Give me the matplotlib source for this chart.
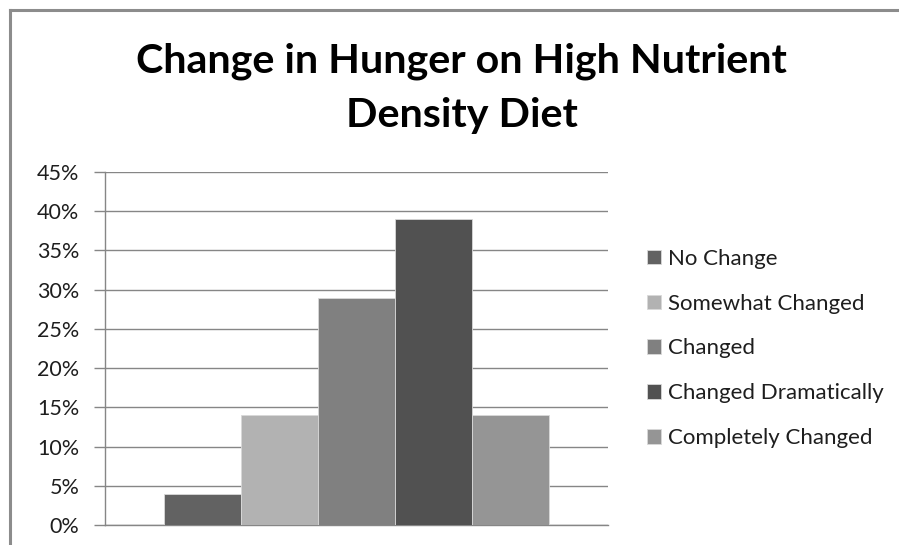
import matplotlib
matplotlib.use('Agg')
import matplotlib.pyplot as plt
from matplotlib.lines import Line2D
from matplotlib.ticker import PercentFormatter

# Survey responses (share of participants)
categories = ['No Change', 'Somewhat Changed', 'Changed', 'Changed Dramatically', 'Completely Changed']
values = [0.04, 0.14, 0.29, 0.39, 0.14]
colors = ['#626262', '#b2b2b2', '#808080', '#515151', '#959595']
yticks = [0, 0.05, 0.10, 0.15, 0.20, 0.25, 0.30, 0.35, 0.40, 0.45]
title_lines = ['Change in Hunger on High Nutrient', 'Density Diet']

plt.rcParams['font.family'] = ['Lato', 'DejaVu Sans']

W, H = 899, 545
fig = plt.figure(figsize=(W / 100, H / 100), dpi=100)
ax = fig.add_axes([105 / W, 1 - 525 / H, 503 / W, 353 / H])

# one category group, bars side by side
bar_w = 77 / 503
start = 0.5 - 2.5 * bar_w
for i, (cat, val, col) in enumerate(zip(categories, values, colors)):
    ax.bar(start + (i + 0.5) * bar_w, val, width=bar_w, color=col,
           edgecolor='#d9d9d9', linewidth=0.6, label=cat, zorder=3)

ax.set_xlim(0, 1)
ax.set_ylim(0, 0.45)
ax.set_yticks(yticks)
ax.yaxis.set_major_formatter(PercentFormatter(1.0, decimals=0))
ax.set_xticks([])
ax.grid(axis='y', color='#868686', linewidth=1.0, zorder=0)
ax.tick_params(axis='y', length=8, width=1.0, color='#868686', labelsize=15.5,
               labelcolor='#1e1e1e', pad=10.5)
for side in ['top', 'right']:
    ax.spines[side].set_visible(False)
for side in ['left', 'bottom']:
    ax.spines[side].set_color('#868686')
    ax.spines[side].set_linewidth(1.0)

# title, two lines centred over the chart
for line, base in zip(title_lines, [73, 127]):
    fig.text(461.5 / W, 1 - base / H, line, ha='center', va='baseline',
             fontsize=29.7, fontweight='bold', color='black')

# legend to the right of the plot area
leg = ax.legend(loc='center left', bbox_to_anchor=(1 + 39 / 503, 0.5), frameon=False,
                fontsize=16, handlelength=0.63, handleheight=0.63,
                handletextpad=0.3, labelspacing=1.12, borderpad=0, borderaxespad=0)
for t in leg.get_texts():
    t.set_color('#1e1e1e')

# chart border (top and left only visible)
fig.add_artist(Line2D([10 / W, 1], [1 - 10 / H, 1 - 10 / H], color='#8c8c8c',
                      linewidth=2.2, transform=fig.transFigure))
fig.add_artist(Line2D([10 / W, 10 / W], [0, 1 - 10 / H], color='#8c8c8c',
                      linewidth=2.2, transform=fig.transFigure))

fig.savefig('out.png', dpi=100)
